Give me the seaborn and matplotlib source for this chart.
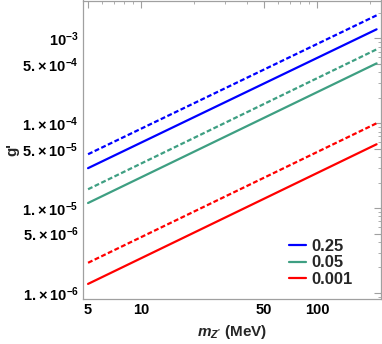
import numpy as np
import pandas as pd
import matplotlib
matplotlib.use("Agg")
import matplotlib.pyplot as plt
import seaborn as sns
from matplotlib.lines import Line2D
from matplotlib.ticker import FixedLocator, NullFormatter

# ---------------------------------------------------------------------------
# Data (log-log straight lines, endpoints only)
# ---------------------------------------------------------------------------
mass_mev = [5, 218]

labels = ["0.25", "0.05", "0.001"]
colors = ["#0000ff", "#3e9f82", "#ff0000"]

g_solid = {
    "0.25":  [2.96e-5, 1.28e-3],
    "0.05":  [1.15e-5, 5.08e-4],
    "0.001": [1.28e-6, 5.66e-5],
}
g_dashed = {
    "0.25":  [4.32e-5, 1.87e-3],
    "0.05":  [1.67e-5, 7.43e-4],
    "0.001": [2.27e-6, 1.00e-4],
}

xticks = [5, 10, 50, 100]
xtick_labels = ["5", "10", "50", "100"]
yticks = [1e-6, 5e-6, 1e-5, 5e-5, 1e-4, 5e-4, 1e-3]
ytick_labels = ["1.\u2009×\u200910$^{-6}$", "5.\u2009×\u200910$^{-6}$",
                "1.\u2009×\u200910$^{-5}$", "5.\u2009×\u200910$^{-5}$",
                "1.\u2009×\u200910$^{-4}$", "5.\u2009×\u200910$^{-4}$",
                "10$^{-3}$"]

# ---------------------------------------------------------------------------
sns.set_theme(style="white")
plt.rcParams["font.family"] = ["Liberation Sans", "DejaVu Sans"]
plt.rcParams["font.weight"] = "bold"
plt.rcParams["mathtext.fontset"] = "custom"
plt.rcParams["mathtext.rm"] = "Liberation Sans:bold"
plt.rcParams["mathtext.bf"] = "Liberation Sans:bold"
plt.rcParams["mathtext.it"] = "Liberation Sans:italic:bold"
plt.rcParams["mathtext.default"] = "rm"

rows = []
for lab in labels:
    for x, y in zip(mass_mev, g_solid[lab]):
        rows.append({"m": x, "g": y, "coupling": lab, "kind": "solid"})
    for x, y in zip(mass_mev, g_dashed[lab]):
        rows.append({"m": x, "g": y, "coupling": lab, "kind": "dashed"})
df = pd.DataFrame(rows)

fig = plt.figure(figsize=(3.82, 3.44), dpi=100)
ax = fig.add_axes([83 / 382, 45 / 344, 298 / 382, 298.5 / 344])

palette = dict(zip(labels, colors))
sns.lineplot(data=df, x="m", y="g", hue="coupling", style="kind",
             palette=palette, dashes={"solid": "", "dashed": (2.2, 1.1)},
             linewidth=1.6, legend=False, ax=ax)

ax.set_xscale("log")
ax.set_yscale("log")
ax.set_xlim(4.68, 231)
ax.set_ylim(10 ** -6.0706, 10 ** -2.553)

ax.xaxis.set_major_locator(FixedLocator(xticks))
ax.set_xticklabels(xtick_labels)
minor_x = [6, 7, 8, 9, 20, 30, 40, 60, 70, 80, 90, 200]
ax.xaxis.set_minor_locator(FixedLocator(minor_x))
ax.xaxis.set_minor_formatter(NullFormatter())

ax.yaxis.set_major_locator(FixedLocator(yticks))
ax.set_yticklabels(ytick_labels)
minor_y = [k * 10.0 ** e for e in range(-7, -2) for k in range(2, 10) if k != 5]
ax.yaxis.set_minor_locator(FixedLocator(minor_y))
ax.yaxis.set_minor_formatter(NullFormatter())

frame_col = "#a0a0a0"
for s in ax.spines.values():
    s.set_color(frame_col)
    s.set_linewidth(0.9)
ax.tick_params(which="both", direction="in", top=True, right=True,
               color=frame_col, labelsize=10.5, labelcolor="black", pad=3)
ax.tick_params(which="major", length=5, width=0.8)
ax.tick_params(which="minor", length=2.5, width=0.6)
for t in ax.get_xticklabels() + ax.get_yticklabels():
    t.set_fontweight("bold")

ax.set_xlabel(r"$\it{m}_{Z'}$ (MeV)", fontsize=11, fontweight="bold", labelpad=4)
ax.set_ylabel("g'", fontsize=11, fontweight="bold", labelpad=2)

handles = [Line2D([0], [0], color=c, lw=1.6) for c in colors]
ax.legend(handles, labels, loc="lower left", frameon=False,
          prop={"size": 12, "weight": "bold"}, handlelength=1.05,
          handletextpad=0.3, labelspacing=0.1, borderpad=0,
          borderaxespad=0, bbox_to_anchor=(0.69, 0.04))

fig.savefig("out.png", dpi=100)
